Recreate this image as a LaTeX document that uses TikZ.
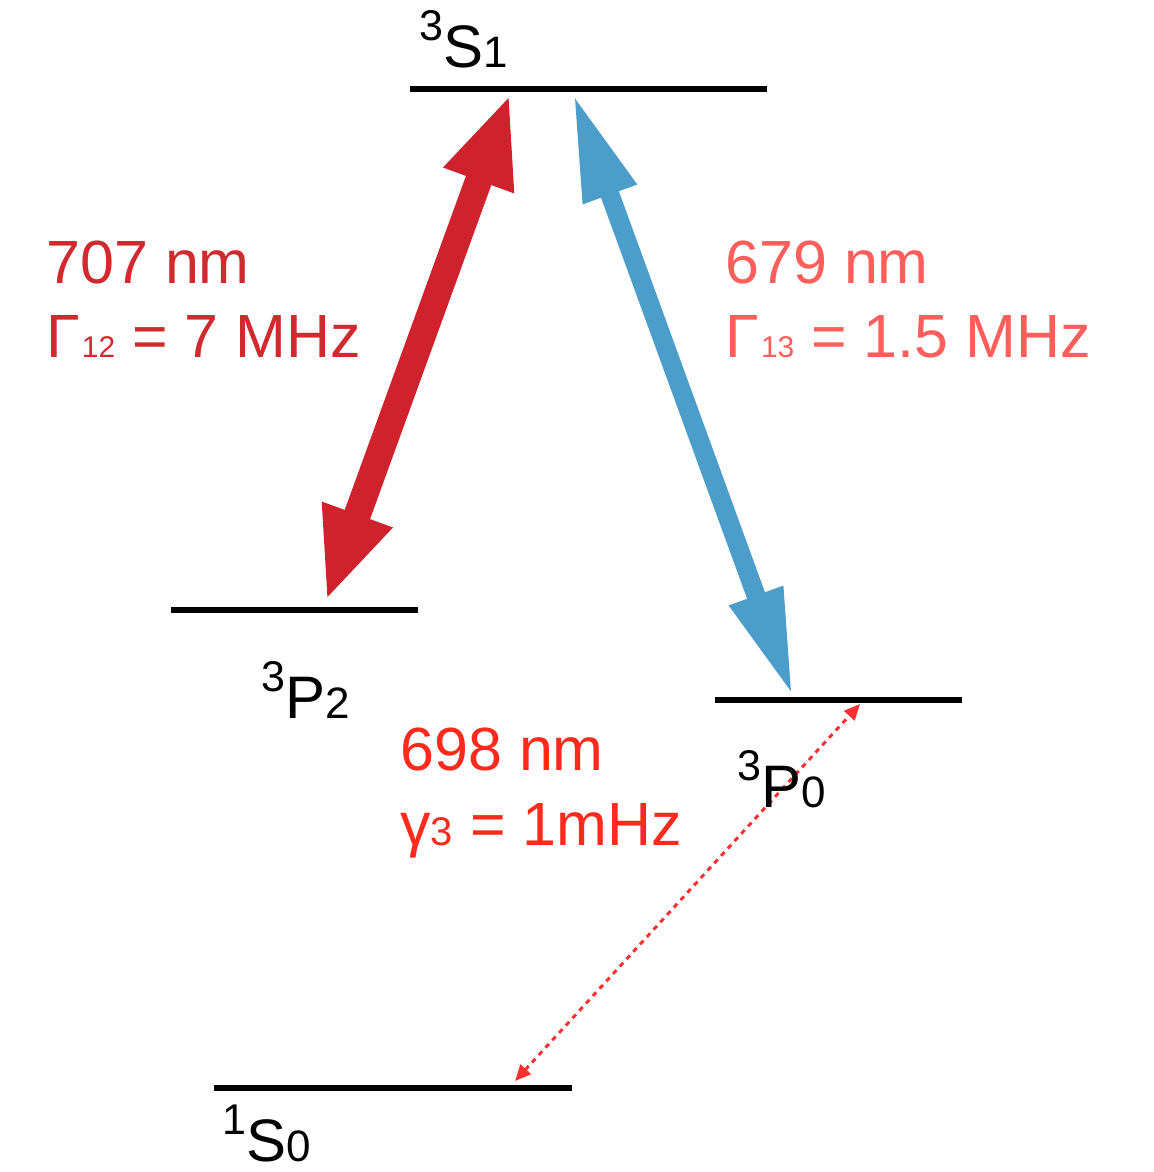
\documentclass[tikz,border=0pt]{standalone}
\usepackage{fontspec}
\setmainfont{Liberation Sans}
\usetikzlibrary{arrows.meta}
\definecolor{arrred}{HTML}{D0222D}
\definecolor{arrblue}{HTML}{4B9DCA}
\definecolor{txtA}{HTML}{D02A2F}
\definecolor{txtB}{HTML}{FF5E5B}
\definecolor{txtC}{HTML}{FF2A1C}
\definecolor{dotred}{HTML}{FF3030}
\newcommand\lvlsym[3]{\raisebox{13.5pt}{\fontsize{21.5}{21.5}\selectfont #1}#2{\fontsize{22}{22}\selectfont #3}}
\newcommand\smallsub[1]{\hspace{1pt}{\fontsize{15}{15}\selectfont #1}}
\tikzset{
  level/.style={line width=3pt, black},
  lvllabel/.style={inner sep=0pt, anchor=base west, font=\fontsize{30}{30}\selectfont},
  txtlabel/.style={inner sep=0pt, anchor=base west, font=\fontsize{30.5}{30.5}\selectfont},
  redarrow/.style={line width=13.5pt, arrred, {Triangle[length=46pt,width=34pt]}-{Triangle[length=46pt,width=34pt]}},
  bluearrow/.style={line width=9.5pt, arrblue, {Triangle[length=54pt,width=26pt]}-{Triangle[length=54pt,width=26pt]}},
  dotarrow/.style={line width=1.5pt, dotred, dash pattern=on 2.5pt off 2.5pt, {Triangle[length=8pt,width=7pt]}-{Triangle[length=8pt,width=7pt]}}
}
\begin{document}
\begin{tikzpicture}[x=0.5pt,y=-0.5pt]
\path[use as bounding box] (0,0) rectangle (1154,1172);
% levels
\draw[level] (410,89) coordinate (s1l) -- (767,89) coordinate (s1r);
\draw[level] (171,610) coordinate (p2l) -- (418,610) coordinate (p2r);
\draw[level] (715,700) coordinate (p0l) -- (962,700) coordinate (p0r);
\draw[level] (214,1088) coordinate (s0l) -- (572,1088) coordinate (s0r);
% arrow end points
\coordinate (rtop) at (510,94);
\coordinate (rbot) at (326,601);
\coordinate (btop) at (573,93);
\coordinate (bbot) at (793,697);
\coordinate (dtop) at (860,704);
\coordinate (dbot) at (515,1081);
% transitions
\draw[redarrow] (rbot) -- (rtop);
\draw[bluearrow] (btop) -- (bbot);
\draw[dotarrow] (dbot) -- (dtop);
% level labels
\node[lvllabel] (n3s1) at (419,68) {\lvlsym{3}{S}{1}};
\node[lvllabel] (n3p2) at (261,718) {\lvlsym{3}{P}{2}};
\node[lvllabel] (n3p0) at (737,807) {\lvlsym{3}{P}{0}};
\node[lvllabel] (n1s0) at (222,1161) {\lvlsym{1}{S}{0}};
% transition labels
\node[txtlabel, text=txtA] (l707) at (46,283) {707 nm};
\node[txtlabel, text=txtA] (g12) at (46,357) {Γ\smallsub{12} = 7 MHz};
\node[txtlabel, text=txtB] (l679) at (725,283) {679 nm};
\node[txtlabel, text=txtB] (g13) at (725,357) {Γ\smallsub{13} = 1.5 MHz};
\node[txtlabel, text=txtC] (l698) at (400,770) {698 nm};
\node[txtlabel, text=txtC] (g3) at (400,845) {γ{\fontsize{20}{20}\selectfont 3} = 1mHz};
\end{tikzpicture}
\end{document}
